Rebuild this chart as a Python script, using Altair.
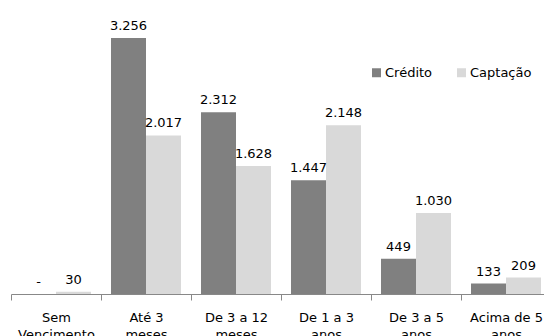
import altair as alt
import pandas as pd

categories = ["Sem Vencimento", "Até 3 meses", "De 3 a 12 meses", "De 1 a 3 anos", "De 3 a 5 anos", "Acima de 5 anos"]
series = ["Crédito", "Captação"]
credito = [0, 3256, 2312, 1447, 449, 133]
captacao = [30, 2017, 1628, 2148, 1030, 209]
colors = ["#808080", "#d9d9d9"]

rows = []
for c, a, b in zip(categories, credito, captacao):
    rows.append({"cat": c, "serie": series[0], "valor": a})
    rows.append({"cat": c, "serie": series[1], "valor": b})
df = pd.DataFrame(rows)

FONT = "DejaVu Sans"

x = alt.X(
    "cat:N", sort=categories, title=None,
    scale=alt.Scale(range=[0, 540], paddingInner=0, paddingOuter=0),
    axis=alt.Axis(
        labelAngle=0, labelOverlap=False, tickBand="extent", tickSize=6,
        domainColor="#888888", tickColor="#888888", labelFont=FONT, labelFontSize=13,
        labelColor="#000000", labelPadding=11, labelLineHeight=17, labelBaseline="top",
        labelExpr="[substring(datum.label, 0, lastindexof(datum.label, ' ')), substring(datum.label, lastindexof(datum.label, ' ') + 1)]",
    ),
)
xo = alt.XOffset("serie:N", sort=series, scale=alt.Scale(paddingOuter=0.2857, paddingInner=0))
y = alt.Y("valor:Q", scale=alt.Scale(domain=[0, 3740]), axis=None)
color = alt.Color(
    "serie:N", sort=series,
    scale=alt.Scale(domain=series, range=colors),
    legend=alt.Legend(
        title=None, orient="none", legendX=359, legendY=66, direction="horizontal",
        symbolType="square", symbolSize=81, symbolStrokeWidth=0, symbolOpacity=1,
        labelFont=FONT, labelFontSize=13, labelColor="#000000",
        columnPadding=22, labelOffset=2, padding=0,
    ),
)

base = alt.Chart(df)
bars = base.mark_bar(strokeWidth=0).encode(x=x, xOffset=xo, y=y, color=color)
labels = base.transform_calculate(
    label="datum.valor == 0 ? '-' : replace(format(datum.valor, ','), ',', '.')"
).mark_text(font=FONT, fontSize=13, baseline="alphabetic", dy=-8, color="#000000").encode(
    x=x, xOffset=xo, y=y, text="label:N"
)

chart = alt.layer(bars, labels).properties(
    width=533, height=294,
    autosize=alt.AutoSizeParams(type="none"),
    padding={"left": 11, "top": 0, "right": 0, "bottom": 42},
).configure_view(stroke=None)

chart.save("out.html", embed_options={"renderer": "svg", "actions": False})
